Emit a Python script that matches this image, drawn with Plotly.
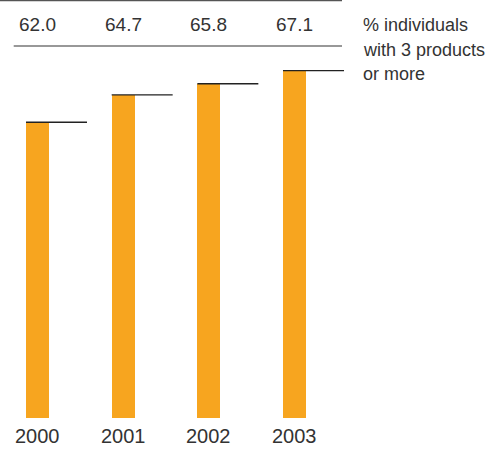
import plotly.graph_objects as go

years = ["2000", "2001", "2002", "2003"]
values = [62.0, 64.7, 65.8, 67.1]
value_labels = ["62.0", "64.7", "65.8", "67.1"]
label_lines = ["% individuals", "with 3 products", "or more"]

W, H = 485, 450
plot_w = 346
plot_h = 418
px_per_cat = 85.67
left_center = 37.5
bar_w_px = 23
line_len_px = 61

x_min = -left_center / px_per_cat
x_max = (plot_w - left_center) / px_per_cat
y_min = 32.8
y_max = 67.1 + 70.3 / 10.085

orange = "#F7A51F"
text_col = "#333333"
font = "Liberation Sans, Arial, sans-serif"

xs = list(range(len(years)))
fig = go.Figure()
fig.add_trace(go.Bar(x=xs, y=values, width=bar_w_px / px_per_cat,
                     marker=dict(color=orange, line=dict(width=0)),
                     hoverinfo="skip"))

bw = bar_w_px / px_per_cat
ll = line_len_px / px_per_cat
shapes = []
for i, v in enumerate(values):
    shapes.append(dict(type="line", xref="x", yref="y", x0=i - bw / 2, x1=i - bw / 2 + ll,
                       y0=v, y1=v, line=dict(color="#222222", width=1.3)))
shapes.append(dict(type="line", xref="paper", yref="paper", x0=0, x1=342 / plot_w,
                   y0=1 - 0.6 / plot_h, y1=1 - 0.6 / plot_h, line=dict(color="#555555", width=1.2)))
shapes.append(dict(type="line", xref="paper", yref="paper", x0=13.7 / plot_w, x1=342 / plot_w,
                   y0=1 - 46 / plot_h, y1=1 - 46 / plot_h, line=dict(color="#333333", width=1.2)))

annotations = []
for i, (yr, vl) in enumerate(zip(years, value_labels)):
    annotations.append(dict(x=i, y=1, xref="x", yref="paper", text=vl, showarrow=False,
                            xanchor="center", yanchor="middle", yshift=-24,
                            font=dict(size=19, color=text_col, family=font)))
    annotations.append(dict(x=i, y=0, xref="x", yref="paper", text=yr, showarrow=False,
                            xanchor="center", yanchor="middle", yshift=-17.5,
                            font=dict(size=20, color=text_col, family=font)))
for j, t in enumerate(label_lines):
    annotations.append(dict(x=361 / plot_w, y=1, xref="paper", yref="paper", text=t, showarrow=False,
                            xanchor="left", yanchor="middle", yshift=-(25 + 24.5 * j),
                            font=dict(size=18, color=text_col, family=font)))

fig.update_layout(
    width=W, height=H,
    margin=dict(l=0, r=W - plot_w, t=0, b=H - plot_h, pad=0),
    paper_bgcolor="white", plot_bgcolor="white",
    showlegend=False,
    xaxis=dict(range=[x_min, x_max], visible=False, fixedrange=True),
    yaxis=dict(range=[y_min, y_max], visible=False, fixedrange=True),
    shapes=shapes, annotations=annotations,
    bargap=0,
)
fig.write_html("out.html", config={"displayModeBar": False})
